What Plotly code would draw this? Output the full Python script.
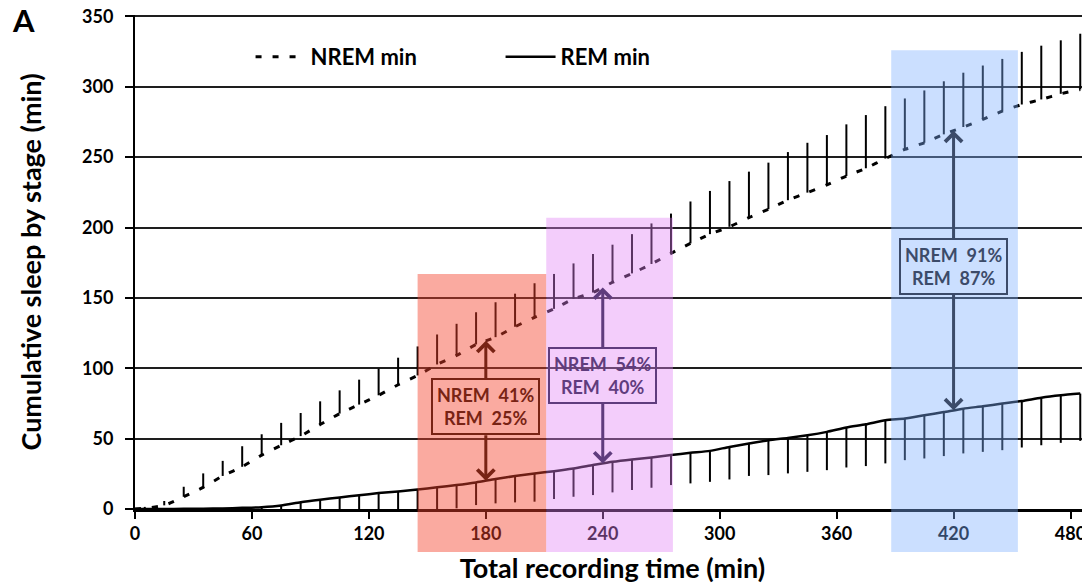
import numpy as np
import plotly.graph_objects as go

# ---------------- data ----------------
time_min = [0, 5, 15, 25, 35, 45, 55, 65, 75, 85, 95, 105, 115, 125, 135, 145, 155, 165,
            175, 185, 195, 205, 215, 225, 235, 245, 255, 265, 275, 285, 295, 305, 315,
            325, 335, 345, 355, 365, 375, 385, 395, 405, 415, 425, 435, 445, 455, 465,
            475, 485]

nrem_min = [0, 0.5, 2.6, 8.7, 15.4, 23.5, 30.0, 38.3, 45.3, 51.8, 60.0, 67.8, 74.2, 80.8,
            88.3, 94.9, 102.7, 109.1, 116.9, 122.1, 129.5, 136.2, 142.2, 149.3, 153.8,
            161.1, 167.4, 174.1, 181.6, 188.7, 195.3, 200.5, 207.1, 213.0, 219.4, 224.8,
            230.3, 236.6, 242.1, 249.0, 255.5, 260.2, 266.2, 271.4, 276.8, 282.7, 287.4,
            291.0, 295.0, 298.1]

nrem_err_plus = [0, 1.0, 3.1, 7.1, 9.9, 10.7, 14.6, 14.8, 15.9, 16.4, 16.5, 16.5, 17.7,
                 18.9, 19.2, 20.6, 21.3, 22.5, 22.9, 24.8, 23.5, 24.2, 24.8, 25.2, 27.4,
                 26.7, 27.9, 28.8, 28.3, 29.8, 30.7, 32.5, 32.6, 33.1, 34.2, 35.4, 35.4,
                 36.7, 37.8, 37.2, 36.2, 37.2, 37.7, 38.6, 38.3, 37.1, 37.4, 38.2, 38.0,
                 39.6]

rem_min = [0, 0, 0, 0.1, 0.2, 0.4, 0.8, 1.3, 2.5, 4.8, 6.6, 8.2, 9.8, 11.3, 12.5, 13.9,
           15.4, 17.0, 18.9, 21.3, 23.4, 25.3, 26.9, 28.8, 31.2, 33.5, 35.2, 36.6, 38.3,
           39.9, 41.3, 44.1, 46.5, 48.9, 50.5, 52.4, 54.8, 57.9, 60.2, 63.1, 64.3, 66.6,
           68.9, 71.3, 73.0, 74.9, 76.7, 79.1, 80.8, 82.0]

rem_err_minus = [0, 0, 0, 0.1, 0.2, 0.4, 0.8, 1.3, 2.5, 4.8, 6.6, 8.2, 9.8, 11.3, 12.5,
                 13.9, 15.4, 16.5, 16.1, 17.3, 18.7, 20.1, 19.8, 20.1, 21.3, 21.7, 21.7,
                 21.5, 21.3, 21.7, 22.0, 23.1, 23.0, 24.8, 25.2, 26.0, 27.2, 28.4, 29.7,
                 30.7, 29.6, 30.7, 31.3, 31.8, 32.4, 33.1, 33.0, 33.8, 33.8, 33.6]

x_ticks = [0, 60, 120, 180, 240, 300, 360, 420, 480]
y_ticks = [0, 50, 100, 150, 200, 250, 300, 350]

# highlighted windows
window_start = [145, 211, 388]
window_end = [211, 276, 453]
window_top = [167, 207, 326]
window_mid = [180, 240, 420]
nrem_pct = ["41%", "54%", "91%"]
rem_pct = ["25%", "40%", "87%"]
label_center_y = [72.5, 94.7, 172.4]
label_half_h = [19.0, 18.7, 18.6]
window_fill = ["rgba(245,67,44,0.45)", "rgba(225,130,245,0.40)", "rgba(125,175,255,0.40)"]
window_ink = ["#782314", "#5f3c7d", "#3c4b69"]

Y_MAX = 351
X_MAX = 490
FONT = "Lato"

fig = go.Figure()

fig.add_trace(go.Scatter(
    x=time_min, y=nrem_min, mode="lines", name="NREM min",
    line=dict(color="black", width=3, dash="6px,11px", shape="spline", smoothing=0.6),
    error_y=dict(type="data", symmetric=False, array=nrem_err_plus,
                 arrayminus=[0] * len(nrem_err_plus), color="black", thickness=2, width=0),
))
fig.add_trace(go.Scatter(
    x=time_min, y=rem_min, mode="lines", name="REM min",
    line=dict(color="black", width=2.5, shape="spline", smoothing=0.6),
    error_y=dict(type="data", symmetric=False, array=[0] * len(rem_err_minus),
                 arrayminus=rem_err_minus, color="black", thickness=2, width=0),
))

shapes = []
for x0, x1, top, fill in zip(window_start, window_end, window_top, window_fill):
    shapes.append(dict(type="rect", xref="x", yref="paper", x0=x0, x1=x1,
                       y0=-0.087, y1=top / Y_MAX, fillcolor=fill, line=dict(width=0),
                       layer="above"))

annotations = []
for xm, npct, rpct, cy, hh, ink in zip(window_mid, nrem_pct, rem_pct, label_center_y,
                                       label_half_h, window_ink):
    tip_up = float(np.interp(xm, time_min, nrem_min))
    tip_dn = float(np.interp(xm, time_min, rem_min))
    annotations.append(dict(
        x=xm, y=cy, xref="x", yref="y", showarrow=False,
        text=f"NREM  {npct}<br>REM  {rpct}",
        font=dict(family=FONT, size=18, color=ink, weight="bold"),
        bordercolor=ink, borderwidth=2, borderpad=4, align="center"))
    annotations.append(dict(
        x=xm, y=tip_up, ax=xm, ay=cy + hh, xref="x", yref="y", axref="x", ayref="y",
        text="", showarrow=True, arrowhead=4, arrowsize=1.1, arrowwidth=3,
        arrowcolor=ink, standoff=0, startstandoff=0))
    annotations.append(dict(
        x=xm, y=tip_dn, ax=xm, ay=cy - hh, xref="x", yref="y", axref="x", ayref="y",
        text="", showarrow=True, arrowhead=4, arrowsize=1.1, arrowwidth=3,
        arrowcolor=ink, standoff=0, startstandoff=0))

annotations.append(dict(
    x=-0.131, y=0.99, xref="paper", yref="paper", xanchor="left", yanchor="middle",
    text="A", showarrow=False, font=dict(family=FONT, size=31, color="black", weight="bold")))

# the page body adds an 8px offset; size the figure so the plot lands where intended
fig.update_layout(
    width=1082, height=579,
    margin=dict(l=127, r=0, t=7, b=78),
    paper_bgcolor="white", plot_bgcolor="white",
    font=dict(family=FONT, color="black"),
    shapes=shapes, annotations=annotations,
    showlegend=True,
    legend=dict(orientation="h", x=0.121, y=0.915, xanchor="left", yanchor="middle",
                font=dict(family=FONT, size=22, color="black", weight="bold"),
                bgcolor="rgba(0,0,0,0)", entrywidth=185, entrywidthmode="pixels",
                itemwidth=50),
    xaxis=dict(range=[0, X_MAX], tickvals=x_ticks, ticks="outside", ticklen=7,
               tickwidth=2, tickcolor="black", showline=True, linewidth=2.5,
               linecolor="black", showgrid=False, zeroline=False, automargin=False,
               tickfont=dict(family=FONT, size=18, color="black", weight="bold"),
               title=dict(text="Total recording time (min)", standoff=16,
                          font=dict(family=FONT, size=27, color="black", weight="bold"))),
    yaxis=dict(range=[0, Y_MAX], tickvals=y_ticks, ticks="outside", ticklen=8,
               tickwidth=1.5, tickcolor="black", showline=True, linewidth=2,
               linecolor="black", showgrid=True, gridcolor="#1e1e1e", gridwidth=1.5,
               zeroline=False, automargin=False, ticklabelstandoff=8,
               ticklabeloverflow="allow",
               tickfont=dict(family=FONT, size=18, color="black", weight="bold"),
               title=dict(text="Cumulative sleep by stage (min)", standoff=33,
                          font=dict(family=FONT, size=27, color="black", weight="bold"))),
)

fig.write_html("out.html")
